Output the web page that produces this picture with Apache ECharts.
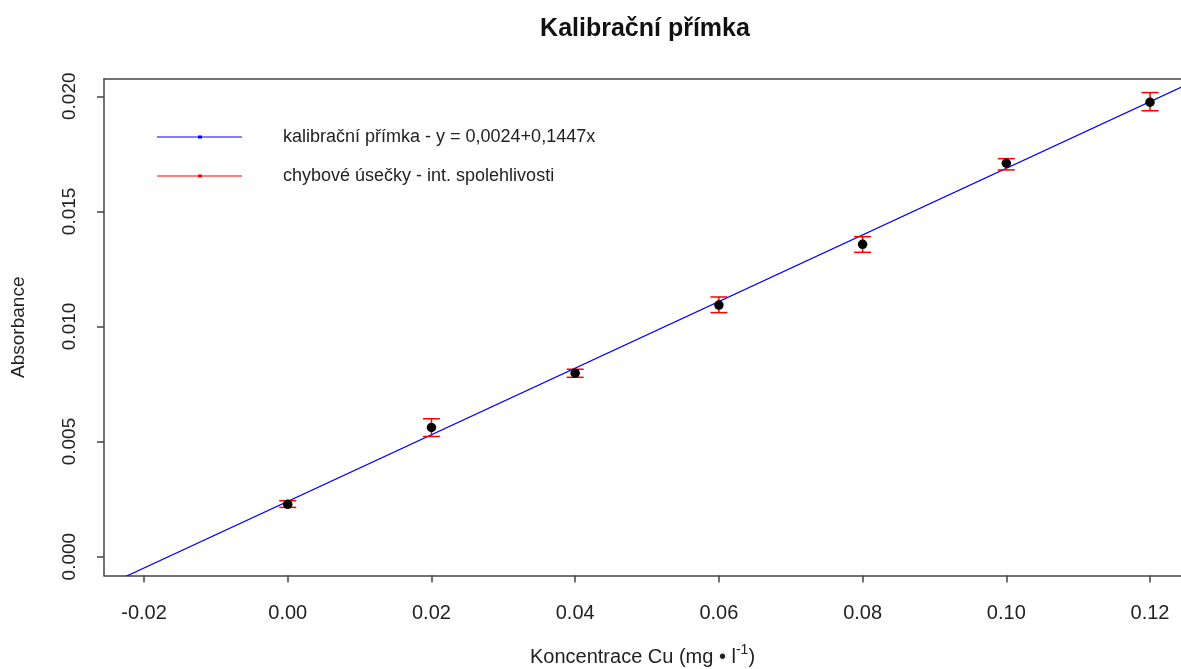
<!DOCTYPE html>
<html>
<head>
<meta charset="utf-8">
<script src="https://cdn.jsdelivr.net/npm/echarts@6/dist/echarts.min.js"></script>
<style>
html,body{margin:0;padding:0;background:#fff;}
#chart{width:1181px;height:669px;}
</style>
</head>
<body>
<div id="chart"></div>
<script>
// ---- data ----
const concentrations = [0.00, 0.02, 0.04, 0.06, 0.08, 0.10, 0.12];
const absorbance     = [0.00227, 0.00561, 0.00797, 0.01093, 0.01357, 0.01709, 0.01974];
const ciLower        = [0.00214, 0.00522, 0.00779, 0.01060, 0.01322, 0.01680, 0.01937];
const ciUpper        = [0.00243, 0.00599, 0.00814, 0.01128, 0.01390, 0.01729, 0.02016];
// calibration line y = intercept + slope * x (from legend)
const fitCoef = [0.0024, 0.1447];
const xRange = [-0.02557, 0.12431];
const yRange = [-0.00082, 0.02075];
const xTicks = [-0.02, 0.00, 0.02, 0.04, 0.06, 0.08, 0.10, 0.12];
const yTicks = [0.000, 0.005, 0.010, 0.015, 0.020];
const titleText = 'Kalibrační přímka';
const lineName = 'kalibrační přímka - y = 0,0024+0,1447x';
const errName = 'chybové úsečky - int. spolehlivosti';

const FONT = '"Liberation Sans", Arial, sans-serif';
const TXT = '#222';
const AX = '#444';

const fitLine = xRange.map(x => [x, fitCoef[0] + fitCoef[1] * x]);
const points = concentrations.map((x, i) => [x, absorbance[i]]);
const errData = concentrations.map((x, i) => [x, ciLower[i], ciUpper[i]]);

const chart = echarts.init(document.getElementById('chart'), null, {renderer: 'canvas'});
chart.setOption({
  animation: false,
  backgroundColor: '#fff',
  title: {
    text: titleText, left: 645, top: 17, textAlign: 'center', padding: 0,
    textStyle: {fontFamily: FONT, fontSize: 25, fontWeight: 'bold', color: '#111'}
  },
  legend: {
    orient: 'vertical', left: 157, top: 127, itemGap: 19, padding: 0,
    itemWidth: 85, itemHeight: 3,
    textStyle: {fontFamily: FONT, fontSize: 18, color: TXT, lineHeight: 20, padding: [0, 0, 0, 36]},
    data: [
      {name: lineName, icon: 'path://M0,1 L85,1 L85,2 L0,2 Z M41,0 L45,0 L45,3 L41,3 Z'},
      {name: errName, icon: 'path://M0,1 L85,1 L85,2 L0,2 Z M41,0 L45,0 L45,3 L41,3 Z'}
    ]
  },
  grid: {left: 104, top: 79, right: 0, bottom: 93.5, containLabel: false, outerBoundsMode: 'none'},
  xAxis: [{
    type: 'value', min: xRange[0], max: xRange[1],
    axisLine: {show: true, onZero: false, lineStyle: {color: AX, width: 1.5}},
    axisTick: {show: true, length: 7, customValues: xTicks, lineStyle: {color: AX, width: 1.5}},
    axisLabel: {customValues: xTicks, margin: 28, fontFamily: FONT, fontSize: 20, color: TXT,
      formatter: v => v.toFixed(2)},
    splitLine: {show: false},
    name: 'Koncentrace Cu (mg • l{sup|-1})', nameLocation: 'middle', nameGap: 68,
    nameTextStyle: {fontFamily: FONT, fontSize: 20, color: TXT,
      rich: {sup: {fontFamily: FONT, fontSize: 14, color: TXT, padding: [0, 0, 13, 0]}}}
  }, {
    type: 'value', position: 'top', min: xRange[0], max: xRange[1],
    axisLine: {show: true, onZero: false, lineStyle: {color: AX, width: 1.5}},
    axisTick: {show: false}, axisLabel: {show: false}, splitLine: {show: false}
  }],
  yAxis: {
    type: 'value', min: yRange[0], max: yRange[1],
    axisLine: {show: true, onZero: false, lineStyle: {color: AX, width: 1.5}},
    axisTick: {show: true, length: 7, customValues: yTicks, lineStyle: {color: AX, width: 1.5}},
    axisLabel: {customValues: yTicks, rotate: 90, margin: 25, fontFamily: FONT, fontSize: 19, color: TXT,
      formatter: v => v.toFixed(3)},
    splitLine: {show: false},
    name: 'Absorbance', nameLocation: 'middle', nameRotate: 90, nameGap: 76,
    nameTextStyle: {fontFamily: FONT, fontSize: 19, color: TXT}
  },
  series: [
    {
      name: lineName, type: 'line', data: fitLine, xAxisIndex: 0,
      showSymbol: false, symbol: 'none', clip: true,
      lineStyle: {color: '#0000ff', width: 1.2}, itemStyle: {color: '#0000ff'}, z: 2
    },
    {
      name: errName, type: 'custom', xAxisIndex: 0, data: errData,
      itemStyle: {color: '#ff0000'},
      encode: {x: 0, y: [1, 2]},
      renderItem: function (params, api) {
        const x = api.value(0);
        const lo = api.coord([x, api.value(1)]);
        const hi = api.coord([x, api.value(2)]);
        const hw = 8.5;
        const st = {stroke: '#ff0000', lineWidth: 1.5};
        return {type: 'group', children: [
          {type: 'line', shape: {x1: lo[0], y1: lo[1], x2: hi[0], y2: hi[1]}, style: st},
          {type: 'line', shape: {x1: lo[0] - hw, y1: lo[1], x2: lo[0] + hw, y2: lo[1]}, style: st},
          {type: 'line', shape: {x1: hi[0] - hw, y1: hi[1], x2: hi[0] + hw, y2: hi[1]}, style: st}
        ]};
      },
      z: 3
    },
    {
      name: 'body', type: 'scatter', data: points, xAxisIndex: 0,
      symbol: 'circle', symbolSize: 9.5, itemStyle: {color: '#000', opacity: 1}, z: 4
    }
  ]
});
</script>
</body>
</html>
